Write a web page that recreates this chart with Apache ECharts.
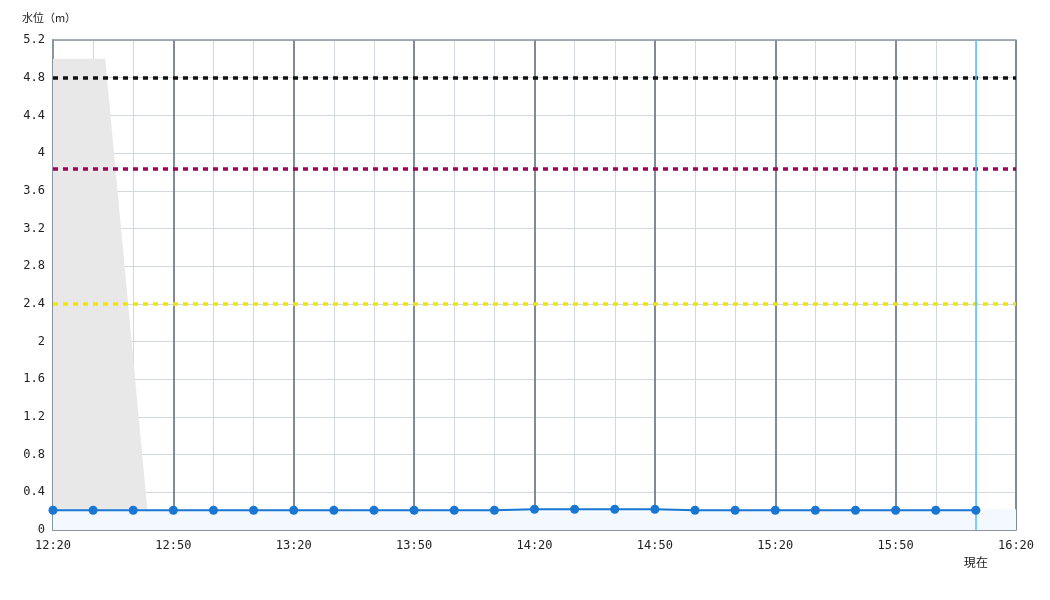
<!DOCTYPE html>
<html><head><meta charset="utf-8">
<script src="https://cdn.jsdelivr.net/npm/echarts@6/dist/echarts.min.js"></script>
<style>html,body{margin:0;padding:0;background:#fff}#c{width:1050px;height:600px}</style>
</head><body><div id="c"></div>
<script>
var startTime = "12:20";
var times = ["12:20","12:30","12:40","12:50","13:00","13:10","13:20","13:30","13:40","13:50","14:00","14:10","14:20","14:30","14:40","14:50","15:00","15:10","15:20","15:30","15:40","15:50","16:00","16:10"];
var levels = [0.21,0.21,0.21,0.21,0.21,0.21,0.21,0.21,0.21,0.21,0.21,0.21,0.22,0.22,0.22,0.22,0.21,0.21,0.21,0.21,0.21,0.21,0.21,0.21];
var grayTimes = ["12:20","12:33","12:44"];
var grayValues = [5.0,5.0,0];
var bandTimes = ["12:20","16:20"];
var bandValues = [0.22,0.22];
var thresholds = [4.8,3.83,2.4];
var thresholdColors = ["#111111","#a0005c","#f2e600"];
var nowTime = "16:10";
var nowLabel = "現在";

function toMin(t){var p=t.split(":");return (+p[0])*60+(+p[1]);}
var base = toMin(startTime);
function off(t){return toMin(t)-base;}
function fmt(v){var m=base+v;var h=Math.floor(m/60),mm=m%60;return h+":"+(mm<10?"0":"")+mm;}

var chart = echarts.init(document.getElementById('c'));
var mono = "DejaVu Sans Mono";
var option = {
  animation:false,
  grid:{left:53,right:34,top:40,bottom:70,show:false},
  xAxis:[{type:'value',min:0,max:240,interval:30,
    axisLine:{show:true,lineStyle:{color:'#8a96a0',width:2}},
    axisTick:{show:false},
    axisLabel:{formatter:fmt,fontFamily:mono,fontSize:12,color:'#222',margin:10},
    splitLine:{show:true,lineStyle:{color:'#7f8c98',width:2}},
    minorTick:{show:false,splitNumber:3},
    minorSplitLine:{show:true,lineStyle:{color:'#d3d8dd',width:1}}
  },{type:'value',position:'top',min:0,max:240,interval:30,
    axisLine:{show:true,lineStyle:{color:'#8a96a0',width:1.5}},
    axisTick:{show:false},axisLabel:{show:false},splitLine:{show:false}
  }],
  yAxis:{type:'value',min:0,max:5.2,interval:0.4,
    name:'水位（m）',nameLocation:'end',nameGap:17,
    nameTextStyle:{fontFamily:'Noto Sans CJK JP',fontSize:11,color:'#222',align:'center',padding:[0,0,0,-8]},
    axisLine:{show:true,lineStyle:{color:'#8a96a0',width:2}},
    axisTick:{show:false},
    axisLabel:{fontFamily:mono,fontSize:12,color:'#222',margin:8},
    splitLine:{show:true,lineStyle:{color:'#d3d8dd',width:1}}
  },
  series:[
    {type:'line',z:1,symbol:'none',silent:true,
      data:grayTimes.map(function(t,i){return [off(t),grayValues[i]];}),
      lineStyle:{width:0},areaStyle:{color:'#e8e8e8',opacity:1}},
    {type:'line',z:1,symbol:'none',silent:true,
      data:bandTimes.map(function(t,i){return [off(t),bandValues[i]];}),
      lineStyle:{width:0},areaStyle:{color:'#f3f9fe',opacity:1}},
    {type:'line',z:5,symbol:'circle',symbolSize:9,
      data:times.map(function(t,i){return [off(t),levels[i]];}),
      itemStyle:{color:'#1976d2'},lineStyle:{color:'#1976d2',width:2},
      markLine:{silent:true,symbol:'none',animation:false,
        data:thresholds.map(function(v,i){return {yAxis:v,lineStyle:{color:thresholdColors[i],width:3.5,type:[5,5]},label:{show:false}};})
          .concat([{xAxis:off(nowTime),lineStyle:{color:'#4fc3f7',width:1.5,type:'solid'},
            label:{show:true,position:'start',formatter:nowLabel,distance:26,fontFamily:'Noto Sans CJK JP',fontSize:12,color:'#222'}}])
      }
    }
  ]
};
chart.setOption(option);
</script></body></html>
